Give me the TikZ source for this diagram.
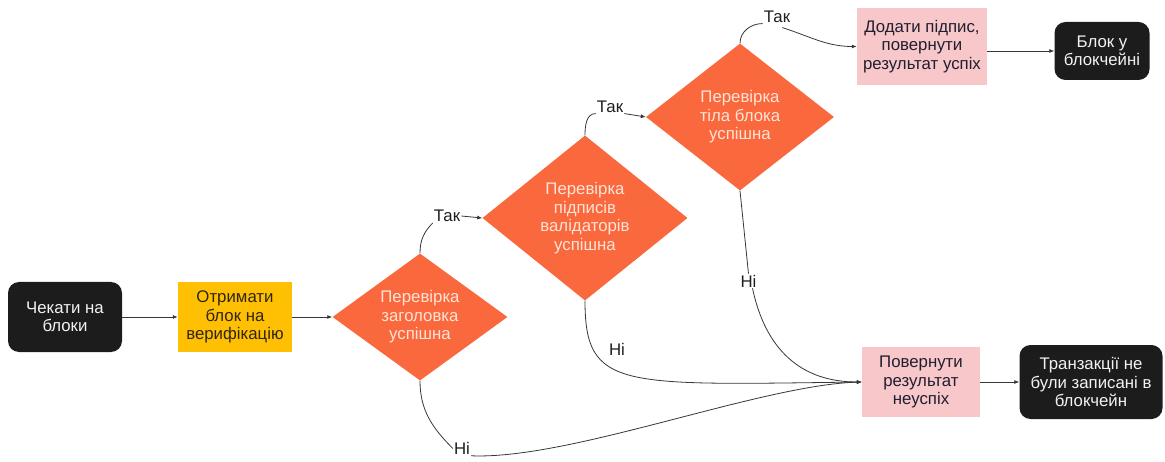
\documentclass[tikz,border=0pt]{standalone}
\usepackage{fontspec}
\setmainfont{Liberation Sans}
\usetikzlibrary{shapes.geometric,arrows.meta}

\definecolor{termfill}{RGB}{28,28,28}
\definecolor{termtext}{RGB}{242,242,242}
\definecolor{fetchfill}{RGB}{255,192,4}
\definecolor{fetchtext}{RGB}{48,38,16}
\definecolor{decfill}{RGB}{250,104,62}
\definecolor{dectext}{RGB}{255,228,214}
\definecolor{resultfill}{RGB}{247,199,201}
\definecolor{resulttext}{RGB}{32,30,48}
\definecolor{linecol}{RGB}{55,55,55}
\definecolor{labeltext}{RGB}{30,30,30}

\tikzset{
  base/.style={font=\fontsize{16.8}{18.6}\selectfont, align=center, inner sep=0pt},
  terminal/.style={base, fill=termfill, text=termtext, rounded corners=11pt},
  fetchbox/.style={base, fill=fetchfill, text=fetchtext},
  resultbox/.style={base, fill=resultfill, text=resulttext},
  decision/.style={base, shape=diamond, aspect=1.3, fill=decfill, text=dectext},
  branch/.style={font=\fontsize{16.8}{18.6}\selectfont, text=labeltext, inner sep=1pt},
  link/.style={draw=linecol, line width=0.8pt},
  arr/.style={link, -{Latex[length=5pt,width=4pt]}},
}

\begin{document}
\begin{tikzpicture}[x=1pt,y=1pt]
\useasboundingbox (0,0) rectangle (1165,461);

% main flow
\node[terminal, minimum width=114pt, minimum height=70pt] (wait) at (65,144) {Чекати на\\блоки};
\node[fetchbox, minimum width=114pt, minimum height=70pt] (get) at (235,144) {Отримати\\блок на\\верифікацію};
\node[decision, minimum width=175pt, minimum height=127pt] (d1) at (420,144) {Перевірка\\заголовка\\успішна};
\node[decision, minimum width=205pt, minimum height=165pt] (d2) at (585,243) {Перевірка\\підписів\\валідаторів\\успішна};
\node[decision, minimum width=188pt, minimum height=147pt] (d3) at (740,344) {Перевірка\\тіла блока\\успішна};

% success branch
\node[resultbox, minimum width=130pt, minimum height=77pt] (add) at (922,414.5) {Додати підпис,\\повернути\\результат успіх};
\node[terminal, minimum width=95pt, minimum height=58pt] (chain) at (1102,410) {Блок у\\блокчейні};

% failure branch
\node[resultbox, minimum width=118pt, minimum height=70pt] (fail) at (921,79) {Повернути\\результат\\неуспіх};
\node[terminal, minimum width=143pt, minimum height=74pt] (txfail) at (1091,79) {Транзакції не\\були записані в\\блокчейн};

% branch labels
\node[branch] (t1) at (447,245) {Так};
\node[branch] (t2) at (610,354.5) {Так};
\node[branch] (t3) at (777,444.5) {Так};
\node[branch] (n1) at (462,12.5) {Ні};
\node[branch] (n2) at (617,112) {Ні};
\node[branch] (n3) at (748.5,180) {Ні};

% straight connectors
\draw[arr] (wait) -- (get);
\draw[arr] (get.east) -- (d1.west);
\draw[arr] (add.east |- chain.west) -- (chain.west);
\draw[arr] (fail) -- (txfail);

% "yes" connectors
\draw[arr] (d1.north) to[out=90,in=225] (t1.south west) (t1.east) -- (d2.west);
\draw[arr] (d2.north) to[out=90,in=180] (t2.south west) (t2.south east) -- (d3.west);
\draw[arr] (d3.north) to[out=90,in=180] (t3.south west)
  ([xshift=-9pt,yshift=-4pt]t3.south east) to[out=-18,in=180] (add.west);

% "no" connectors
\draw[link] (d1.south) to[out=-90,in=135] (n1.west);
\draw[arr] (n1.south east) .. controls (570,1) and (760,76) .. (fail.west);
\draw[arr] (d2.south) .. controls (585,71) and (620,76) .. (fail.west);
\draw[link] (d3.south) -- (n3.north);
\draw[arr] ([xshift=4pt]n3.south) to[out=-78,in=180,looseness=1.1] (fail.west);
\end{tikzpicture}
\end{document}
